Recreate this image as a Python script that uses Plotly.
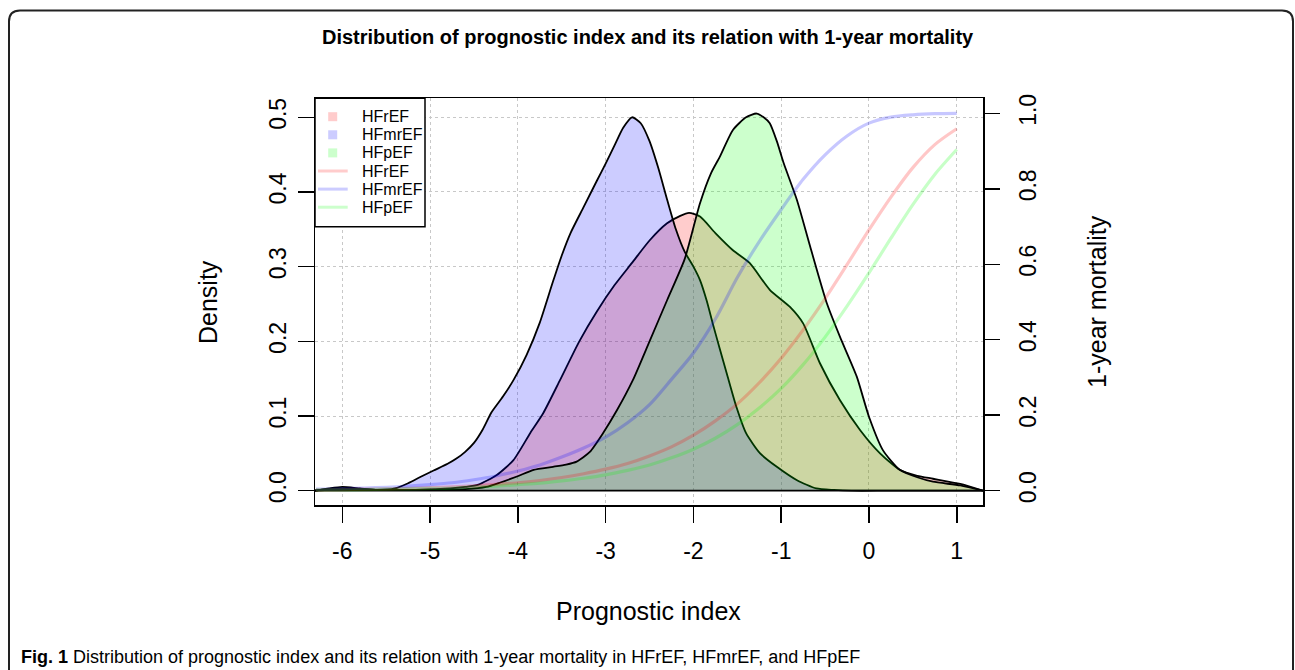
import plotly.graph_objects as go

# ---------------- data ----------------
groups = ["HFrEF", "HFmrEF", "HFpEF"]

# density of the prognostic index (left axis)
hfref_x = [-6.31, -6.1, -5.9, -5.6, -5.2, -4.95, -4.77, -4.6, -4.45, -4.24, -4.05, -3.86, -3.71, -3.52,
           -3.3, -3.1, -2.9, -2.7, -2.5, -2.3, -2.15, -2.05, -1.925, -1.75, -1.55, -1.36, -1.13, -0.9,
           -0.75, -0.56, -0.33, -0.1, 0.126, 0.35, 0.55, 0.73, 1.04, 1.299]
hfref_d = [0.0, 0.003, 0.003, 0.001, 0.001, 0.002, 0.003, 0.005, 0.008, 0.021, 0.041, 0.077, 0.104, 0.148,
           0.20, 0.24, 0.275, 0.305, 0.335, 0.358, 0.368, 0.372, 0.367, 0.345, 0.322, 0.305, 0.269, 0.246,
           0.224, 0.171, 0.121, 0.081, 0.050, 0.028, 0.020, 0.016, 0.009, 0.0]

hfmref_x = [-6.31, -6.15, -6.0, -5.8, -5.6, -5.4, -5.25, -5.1, -4.96, -4.8, -4.7, -4.6, -4.5, -4.4, -4.3,
            -4.17, -4.05, -3.9, -3.75, -3.6, -3.5, -3.4, -3.25, -3.1, -3.0, -2.9, -2.8, -2.7, -2.6, -2.5,
            -2.4, -2.3, -2.2, -2.1, -2.0, -1.925, -1.85, -1.78, -1.7, -1.62, -1.51, -1.4, -1.24, -1.05,
            -0.82, -0.6, -0.4, -0.2, 0.2, 0.6, 1.0, 1.299]
hfmref_d = [0.0, 0.003, 0.005, 0.003, 0.001, 0.003, 0.010, 0.019, 0.027, 0.036, 0.043, 0.052, 0.064, 0.082,
            0.105, 0.126, 0.148, 0.182, 0.225, 0.280, 0.315, 0.345, 0.380, 0.415, 0.438, 0.462, 0.486, 0.500,
            0.492, 0.468, 0.432, 0.390, 0.350, 0.320, 0.300, 0.282, 0.255, 0.224, 0.190, 0.157, 0.112, 0.077,
            0.050, 0.032, 0.014, 0.003, 0.001, 0.0, 0.0, 0.0, 0.0, 0.0]

hfpef_x = [-6.31, -6.0, -5.5, -5.0, -4.6, -4.36, -4.2, -4.01, -3.82, -3.6, -3.45, -3.33, -3.18, -3.03,
           -2.87, -2.69, -2.5, -2.3, -2.1, -1.925, -1.8, -1.7, -1.55, -1.4, -1.28, -1.2, -1.13, -1.05,
           -0.97, -0.82, -0.67, -0.48, -0.33, -0.14, 0.0, 0.16, 0.35, 0.55, 0.73, 1.04, 1.299]
hfpef_d = [0.0, 0.002, 0.001, 0.001, 0.002, 0.005, 0.011, 0.019, 0.028, 0.032, 0.035, 0.039, 0.052, 0.077,
           0.108, 0.148, 0.20, 0.255, 0.31, 0.385, 0.425, 0.447, 0.483, 0.500, 0.505, 0.500, 0.492, 0.468,
           0.438, 0.389, 0.327, 0.251, 0.206, 0.153, 0.099, 0.054, 0.028, 0.018, 0.012, 0.007, 0.0]

# 1-year mortality (right axis)
mort_x = [-6.3, -6.0, -5.75, -5.5, -5.25, -5.0, -4.75, -4.5, -4.25, -4.0, -3.75, -3.5, -3.25, -3.0,
          -2.75, -2.5, -2.25, -2.0, -1.75, -1.5, -1.25, -1.0, -0.75, -0.5, -0.25, 0.0, 0.25, 0.5, 0.75, 1.0]
hfref_m = [0.002, 0.003, 0.004, 0.005, 0.006, 0.008, 0.010, 0.013, 0.017, 0.021, 0.027, 0.035, 0.045,
           0.057, 0.072, 0.092, 0.116, 0.147, 0.185, 0.230, 0.286, 0.351, 0.426, 0.509, 0.599, 0.691,
           0.778, 0.856, 0.917, 0.959]
hfmref_m = [0.004, 0.005, 0.007, 0.009, 0.012, 0.016, 0.021, 0.029, 0.039, 0.052, 0.068, 0.089, 0.113,
            0.142, 0.180, 0.228, 0.295, 0.365, 0.455, 0.565, 0.660, 0.745, 0.825, 0.890, 0.940, 0.974,
            0.990, 0.996, 0.999, 1.000]
hfpef_m = [0.002, 0.002, 0.003, 0.004, 0.005, 0.006, 0.007, 0.010, 0.012, 0.016, 0.020, 0.026, 0.033,
           0.042, 0.054, 0.068, 0.087, 0.110, 0.139, 0.175, 0.219, 0.271, 0.334, 0.407, 0.489, 0.577,
           0.669, 0.758, 0.838, 0.904]

x_ticks = [-6, -5, -4, -3, -2, -1, 0, 1]
x_tick_text = ["-6", "-5", "-4", "-3", "-2", "-1", "0", "1"]
dens_ticks = [0.0, 0.1, 0.2, 0.3, 0.4, 0.5]
mort_ticks = [0.0, 0.2, 0.4, 0.6, 0.8, 1.0]

title_text = "Distribution of prognostic index and its relation with 1-year mortality"
x_title = "Prognostic index"
y_title = "Density"
y2_title = "1-year mortality"
caption = "<b>Fig. 1</b> Distribution of prognostic index and its relation with 1-year mortality in HFrEF, HFmrEF, and HFpEF"

# ---------------- styling ----------------
fill_colors = ["rgba(255,0,0,0.2)", "rgba(0,0,255,0.2)", "rgba(0,255,0,0.2)"]
curve_colors = ["rgba(255,0,0,0.22)", "rgba(0,0,255,0.22)", "rgba(0,255,0,0.22)"]
swatch_colors = ["#ffcccc", "#ccccff", "#ccffcc"]
FONT = "Liberation Sans, Arial, Helvetica, sans-serif"

W, H = 1295, 670
ML, MR, MT, MB = 315, 312, 98, 165
PW, PH = W - ML - MR, H - MT - MB


def pxx(p):
    return (p - ML) / PW


def pxy(p):
    return (H - MB - p) / PH


dens_x = [hfref_x, hfmref_x, hfpef_x]
dens_y = [hfref_d, hfmref_d, hfpef_d]
mort_y = [hfref_m, hfmref_m, hfpef_m]

fig = go.Figure()

for i, g in enumerate(groups):
    fig.add_trace(go.Scatter(
        x=dens_x[i], y=dens_y[i], mode="lines", name=g, fill="tozeroy",
        fillcolor=fill_colors[i], line=dict(color="black", width=1.8, shape="spline", smoothing=0.6),
        hoverinfo="skip", showlegend=False))

# polygon base line along y = 0
all_x = hfref_x + hfmref_x + hfpef_x
fig.add_trace(go.Scatter(x=[min(all_x), max(all_x)], y=[0, 0], mode="lines",
                         line=dict(color="black", width=1.8), hoverinfo="skip", showlegend=False))

for i, g in enumerate(groups):
    fig.add_trace(go.Scatter(
        x=mort_x, y=mort_y[i], mode="lines", name=g, yaxis="y2",
        line=dict(color=curve_colors[i], width=3.2, shape="spline", smoothing=0.8),
        hoverinfo="skip", showlegend=False))

axis_common = dict(ticks="outside", ticklen=16, tickwidth=1.5, tickcolor="black",
                   zeroline=False, tickfont=dict(family=FONT, size=23, color="black"))

fig.update_layout(
    width=W, height=H,
    margin=dict(l=ML, r=MR, t=MT, b=MB, pad=0),
    paper_bgcolor="white", plot_bgcolor="white",
    showlegend=False, hovermode=False,
    font=dict(family=FONT, color="black"),
    xaxis=dict(range=[-6.311, 1.299], tickmode="array", tickvals=x_ticks, ticktext=x_tick_text,
               showline=True, linecolor="black", linewidth=1.5, mirror=True,
               showgrid=True, gridcolor="#c8c8c8", griddash="dot", gridwidth=1,
               ticklabelstandoff=9, **axis_common),
    yaxis=dict(range=[-0.01915, 0.5258], tickmode="array", tickvals=dens_ticks, tickformat=".1f",
               showline=True, linecolor="black", linewidth=1.5, mirror=True, tickangle=-90,
               showgrid=True, gridcolor="#c8c8c8", griddash="dot", gridwidth=1,
               ticklabelstandoff=2, **axis_common),
    yaxis2=dict(range=[-0.0379, 1.0405], tickmode="array", tickvals=mort_ticks, tickformat=".1f",
                overlaying="y", side="right", showline=False, showgrid=False, tickangle=-90,
                ticklabelstandoff=8, **axis_common),
)

annotations = [
    dict(text="<b>%s</b>" % title_text, x=pxx(648), y=pxy(37), xref="paper", yref="paper",
         showarrow=False, xanchor="center", yanchor="middle", font=dict(size=20, family=FONT)),
    dict(text=x_title, x=pxx(648), y=pxy(611), xref="paper", yref="paper",
         showarrow=False, xanchor="center", yanchor="middle", font=dict(size=25, family=FONT)),
    dict(text=y_title, x=pxx(208), y=pxy(302), xref="paper", yref="paper", textangle=-90,
         showarrow=False, xanchor="center", yanchor="middle", font=dict(size=25, family=FONT)),
    dict(text=y2_title, x=pxx(1097), y=pxy(302), xref="paper", yref="paper", textangle=-90,
         showarrow=False, xanchor="center", yanchor="middle", font=dict(size=25, family=FONT)),
    dict(text=caption, x=pxx(19), y=pxy(657), xref="paper", yref="paper",
         showarrow=False, xanchor="left", yanchor="middle", font=dict(size=18, family=FONT)),
]

shapes = []
# outer rounded frame (open at bottom, runs past the page edge)
fx0, fx1, fyt, fyb, rr = pxx(9), pxx(1293), pxy(10.5), pxy(720), 11
rx, ry = rr / PW, rr / PH
shapes.append(dict(
    type="path", xref="paper", yref="paper", layer="above",
    path=(f"M {fx0},{fyb} L {fx0},{fyt - ry} Q {fx0},{fyt} {fx0 + rx},{fyt} "
          f"L {fx1 - rx},{fyt} Q {fx1},{fyt} {fx1},{fyt - ry} L {fx1},{fyb}"),
    line=dict(color="#222222", width=2)))

# legend box
shapes.append(dict(type="rect", xref="paper", yref="paper", layer="above",
                   x0=pxx(315), x1=pxx(425), y0=pxy(226.7), y1=pxy(98.3),
                   fillcolor="white", line=dict(color="black", width=1.5)))
row_y = [116.7 + 18.1 * k for k in range(6)]
for i, g in enumerate(groups):
    yc = row_y[i]
    shapes.append(dict(type="rect", xref="paper", yref="paper", layer="above",
                       x0=pxx(328.2), x1=pxx(337.2), y0=pxy(yc + 4.5), y1=pxy(yc - 4.5),
                       fillcolor=swatch_colors[i], line=dict(width=0)))
    yl = row_y[i + 3]
    shapes.append(dict(type="line", xref="paper", yref="paper", layer="above",
                       x0=pxx(318), x1=pxx(347.7), y0=pxy(yl), y1=pxy(yl),
                       line=dict(color=swatch_colors[i], width=3)))
legend_labels = groups + groups
for k, lab in enumerate(legend_labels):
    annotations.append(dict(text=lab, x=pxx(360), y=pxy(row_y[k]), xref="paper", yref="paper",
                            showarrow=False, xanchor="left", yanchor="middle",
                            font=dict(size=16, family=FONT)))

fig.update_layout(annotations=annotations, shapes=shapes)
fig.write_html("out.html", config={"displayModeBar": False, "staticPlot": True},
               post_script="document.body.style.margin='0px';document.body.style.overflow='hidden';")
